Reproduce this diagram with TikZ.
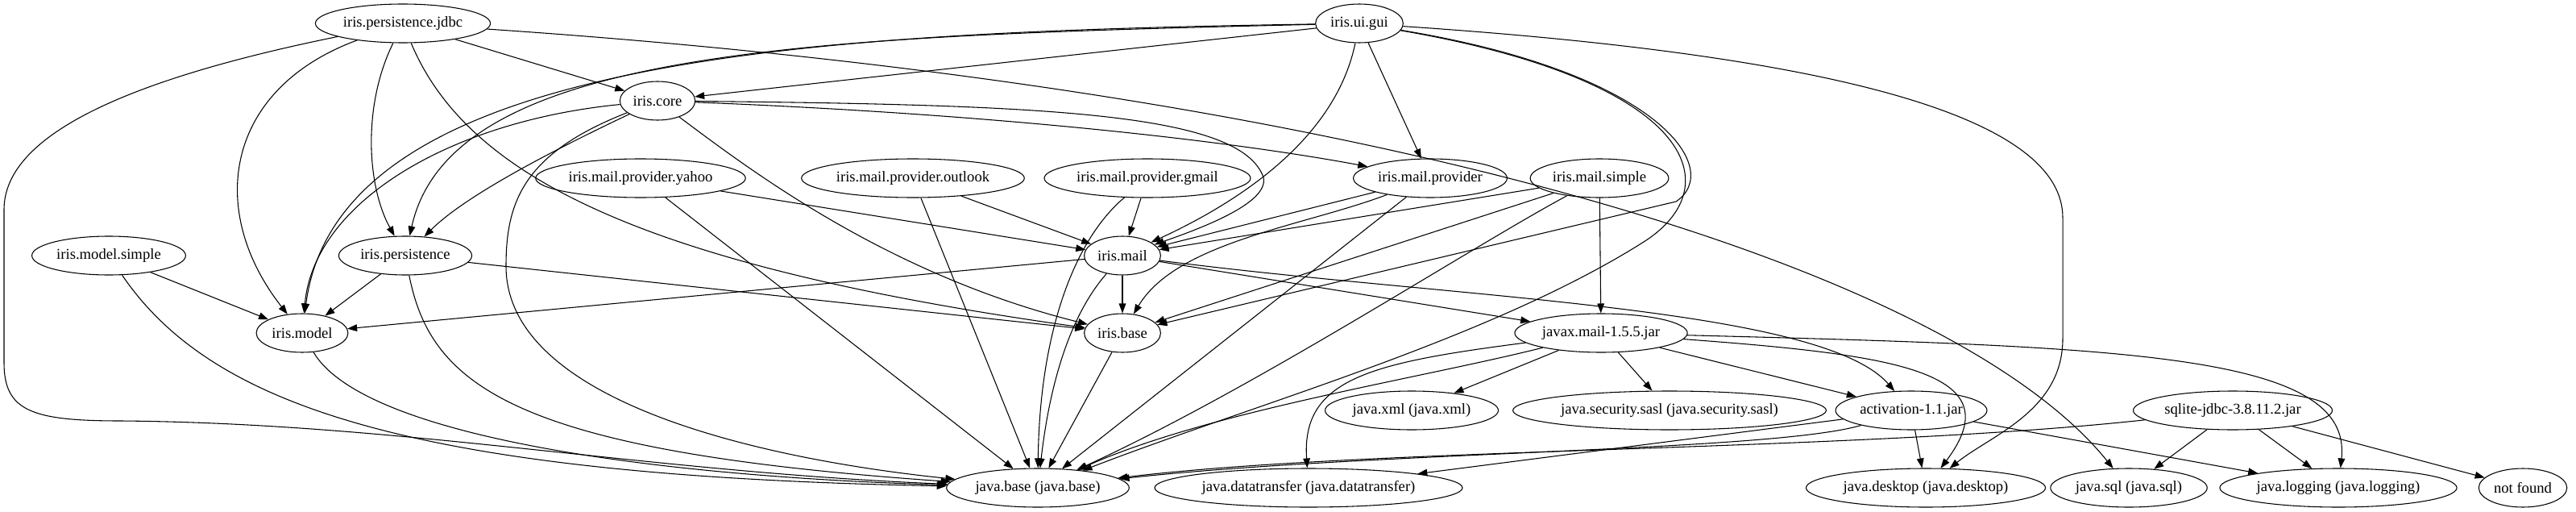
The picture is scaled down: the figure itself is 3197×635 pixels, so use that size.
\documentclass[tikz,border=0pt]{standalone}
\usepackage{fontspec}
\setmainfont{Liberation Serif}
\usetikzlibrary{shapes.geometric, arrows.meta}

\begin{document}
\begin{tikzpicture}[
    x=0.75pt, y=-0.75pt,
    % styles des modules et dépendances
    mod/.style = {ellipse, draw, line width=0.8pt, minimum height=36pt,
                  inner xsep=2pt, inner ysep=0pt,
                  font=\fontsize{14pt}{16pt}\selectfont},
    dep/.style = {-{Triangle[length=9pt,width=6.5pt]}, line width=0.8pt},
]
\useasboundingbox (0,0) rectangle (3197,635);

% ── Modules iris ─────────────────────────────────────────────────────────────
\node[mod] (jdbc)     at (500,29)   {iris.persistence.jdbc};
\node[mod] (gui)      at (1687,29)  {iris.ui.gui};
\node[mod] (core)     at (816,125)  {iris.core};
\node[mod] (yahoo)    at (795,221)  {iris.mail.provider.yahoo};
\node[mod] (outlook)  at (1133,221) {iris.mail.provider.outlook};
\node[mod] (gmail)    at (1424,221) {iris.mail.provider.gmail};
\node[mod] (provider) at (1775,221) {iris.mail.provider};
\node[mod] (simple)   at (1985,221) {iris.mail.simple};
\node[mod] (msimple)  at (135,317)  {iris.model.simple};
\node[mod] (persist)  at (503,317)  {iris.persistence};
\node[mod] (mail)     at (1393,317) {iris.mail};
\node[mod] (model)    at (375,413)  {iris.model};
\node[mod] (base)     at (1393,413) {iris.base};

% ── Archives et modules java ─────────────────────────────────────────────────
\node[mod] (javax)  at (1987,413) {javax.mail-1.5.5.jar};
\node[mod] (jxml)   at (1752,509) {java.xml (java.xml)};
\node[mod] (jsasl)  at (2072,509) {java.security.sasl (java.security.sasl)};
\node[mod] (activ)  at (2372,509) {activation-1.1.jar};
\node[mod] (sqlite) at (2771,509) {sqlite-jdbc-3.8.11.2.jar};
\node[mod] (jbase)  at (1288,605) {java.base (java.base)};
\node[mod] (jdt)    at (1624,605) {java.datatransfer (java.datatransfer)};
\node[mod] (jdesk)  at (2390,605) {java.desktop (java.desktop)};
\node[mod] (jsql)   at (2642,605) {java.sql (java.sql)};
\node[mod] (jlog)   at (2902,605) {java.logging (java.logging)};
\node[mod] (nf)     at (3131,605) {not found};

% ── iris.persistence.jdbc ────────────────────────────────────────────────────
\draw[dep] (jdbc) .. controls (150,100) and (5,170) .. (5,260) -- (5,450)
    .. controls (5,510) and (40,522) .. (150,522)
    .. controls (500,525) and (800,585) .. (jbase);
\draw[dep] (jdbc) .. controls (280,110) and (255,260) .. (model);
\draw[dep] (jdbc) .. controls (450,130) and (455,230) .. (persist);
\draw[dep] (jdbc) .. controls (580,220) and (800,330) .. (base);
\draw[dep] (jdbc) -- (core);
\draw[dep] (jdbc) .. controls (1700,110) and (2420,330) .. (jsql);

% ── iris.ui.gui ──────────────────────────────────────────────────────────────
\draw[dep] (gui) -- (core);
\draw[dep] (gui) .. controls (1000,45) and (560,60) .. (persist);
\draw[dep] (gui) .. controls (1000,40) and (420,70) .. (model);
\draw[dep] (gui) .. controls (1660,160) and (1560,240) .. (mail);
\draw[dep] (gui) -- (provider);
\draw[dep] (gui) .. controls (2060,90) and (2140,210) .. (2080,250) -- (base);
\draw[dep] (gui) .. controls (2100,100) and (2150,230) .. (2040,300)
    .. controls (1850,420) and (1560,500) .. (jbase);
\draw[dep] (gui) .. controls (2300,70) and (2560,150) .. (2560,270) -- (2560,420)
    .. controls (2560,510) and (2470,540) .. (jdesk);

% ── iris.core ────────────────────────────────────────────────────────────────
\draw[dep] (core) .. controls (700,180) and (580,240) .. (persist);
\draw[dep] (core) .. controls (560,150) and (390,250) .. (model);
\draw[dep] (core) .. controls (650,190) and (628,250) .. (628,330)
    .. controls (628,500) and (950,570) .. (jbase);
\draw[dep] (core) .. controls (930,210) and (1100,340) .. (base);
\draw[dep] (core) .. controls (1300,130) and (1540,140) .. (1568,220)
    .. controls (1575,250) and (1500,280) .. (mail);
\draw[dep] (core) .. controls (1200,140) and (1500,170) .. (provider);

% ── Fournisseurs mail ────────────────────────────────────────────────────────
\draw[dep] (yahoo)    -- (mail);
\draw[dep] (yahoo)    -- (jbase);
\draw[dep] (outlook)  -- (mail);
\draw[dep] (outlook)  -- (jbase);
\draw[dep] (gmail)    -- (mail);
\draw[dep] (gmail) .. controls (1330,300) and (1290,420) .. (jbase);
\draw[dep] (provider) -- (mail);
\draw[dep] (provider) .. controls (1620,280) and (1460,300) .. (base);
\draw[dep] (provider) -- (jbase);
\draw[dep] (simple)   -- (mail);
\draw[dep] (simple)   -- (base);
\draw[dep] (simple) .. controls (1820,310) and (1560,480) .. (jbase);
\draw[dep] (simple)   -- (javax);

% ── Modèle et persistance ────────────────────────────────────────────────────
\draw[dep] (msimple) -- (model);
\draw[dep] (msimple) .. controls (260,500) and (500,590) .. (jbase);
\draw[dep] (persist) -- (model);
\draw[dep] (persist) -- (base);
\draw[dep] (persist) .. controls (535,480) and (640,560) .. (jbase);
\draw[dep] (model) .. controls (450,540) and (800,590) .. (jbase);

% ── iris.mail et iris.base ───────────────────────────────────────────────────
\draw[dep] (mail) -- (model);
\draw[dep] (mail) -- (base);
\draw[dep] (mail) .. controls (1320,400) and (1300,500) .. (jbase);
\draw[dep] (mail) -- (javax);
\draw[dep] (mail) .. controls (1800,370) and (2260,380) .. (activ);
\draw[dep] (base) -- (jbase);

% ── javax.mail ───────────────────────────────────────────────────────────────
\draw[dep] (javax) -- (jxml);
\draw[dep] (javax) -- (jsasl);
\draw[dep] (javax) -- (activ);
\draw[dep] (javax) .. controls (1760,470) and (1500,510) .. (jbase);
\draw[dep] (javax) .. controls (1700,450) and (1615,470) .. (jdt);
\draw[dep] (javax) .. controls (2350,440) and (2500,460) .. (jdesk);
\draw[dep] (javax) .. controls (2650,430) and (2920,440) .. (jlog);

% ── activation et sqlite ─────────────────────────────────────────────────────
\draw[dep] (activ) .. controls (2200,560) and (1700,560) .. (jbase);
\draw[dep] (activ) -- (jdt);
\draw[dep] (activ) -- (jdesk);
\draw[dep] (activ) -- (jlog);
\draw[dep] (sqlite) .. controls (2300,560) and (1700,555) .. (jbase);
\draw[dep] (sqlite) -- (jsql);
\draw[dep] (sqlite) -- (jlog);
\draw[dep] (sqlite) -- (nf);

\end{tikzpicture}
\end{document}
